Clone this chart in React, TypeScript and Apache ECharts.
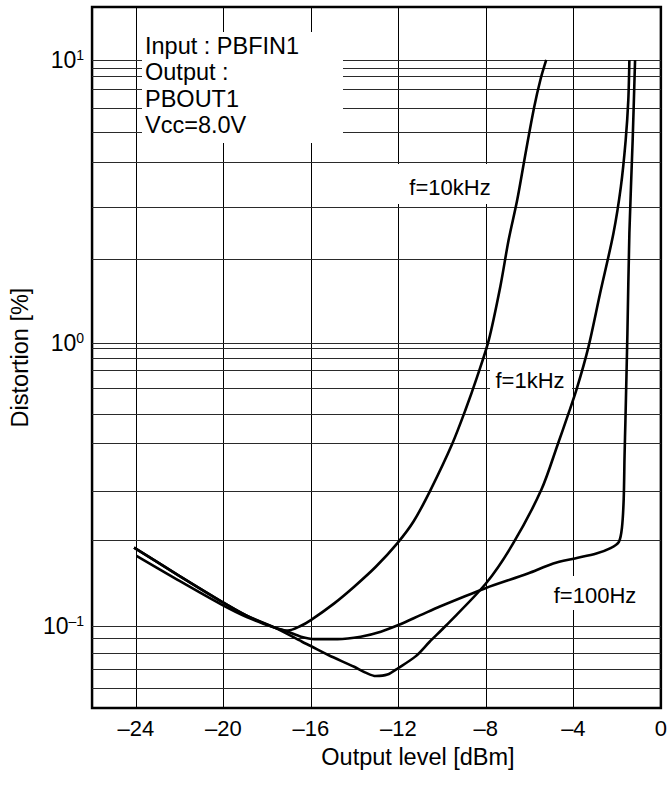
import React, { useEffect, useRef } from "react";
import * as echarts from "echarts";

const FONT = "'Liberation Sans', Arial, sans-serif";

// x tick labels shown, and vertical grid lines
const xLabelValues = [-24, -20, -16, -12, -8, -4, 0];
const xGridValues = [-24, -20, -16, -12, -8, -4];
// y decade labels (exponents) and the hand-drawn horizontal grid lines
const yLabelExponents = [-1, 0, 1];
const yGridValues = [
  0.0551, 0.0675, 0.0788, 0.0878, 0.096, 0.1,
  0.1955, 0.303, 0.441, 0.555, 0.69, 0.801, 0.878, 0.96, 1,
  1.97, 3.02, 4.36, 5.54, 6.77, 7.86, 8.76, 9.37, 10,
];

// Output level [dBm] vs Distortion [%]
const curve10kHz: [number, number][] = [
  [-24.08, 0.189], [-22.07, 0.151], [-20.1, 0.122], [-18.93, 0.1085], [-17.67, 0.0987],
  [-17.05, 0.0962], [-16.45, 0.1], [-16.0, 0.1047], [-14.93, 0.12], [-14.02, 0.1374],
  [-13.03, 0.1616], [-12.05, 0.1955], [-11.3, 0.234], [-10.52, 0.303], [-9.53, 0.441],
  [-8.93, 0.58], [-8.4, 0.758], [-7.87, 1.02], [-7.34, 1.58], [-6.96, 2.31],
  [-6.57, 3.19], [-6.16, 4.8], [-5.79, 6.82], [-5.5, 8.55], [-5.24, 10.0],
];
const curve1kHz: [number, number][] = [
  [-24.08, 0.189], [-22.07, 0.151], [-20.1, 0.122], [-18.93, 0.1085], [-17.67, 0.0987],
  [-16.4, 0.0878], [-16.0, 0.0848], [-15.2, 0.0788], [-14.02, 0.0716], [-13.5, 0.0683],
  [-13.03, 0.0664], [-12.5, 0.0672], [-12.0, 0.0709], [-11.2, 0.0781], [-10.57, 0.0878],
  [-9.83, 0.1], [-8.0, 0.141], [-6.76, 0.195], [-5.46, 0.303], [-4.7, 0.441],
  [-4.25, 0.555], [-3.84, 0.69], [-3.31, 0.968], [-2.78, 1.495], [-2.17, 2.436],
  [-1.83, 3.56], [-1.61, 5.2], [-1.49, 7.2], [-1.44, 10.0],
];
const curve100Hz: [number, number][] = [
  [-23.97, 0.1767], [-22.07, 0.145], [-20.1, 0.119], [-18.93, 0.1073], [-17.67, 0.0985],
  [-17.06, 0.0953], [-16.45, 0.0915], [-15.84, 0.0897], [-14.78, 0.0897], [-13.72, 0.0915],
  [-12.8, 0.0953], [-12.0, 0.1006], [-10.99, 0.109], [-10.1, 0.117], [-8.05, 0.1355],
  [-6.08, 0.153], [-4.92, 0.166], [-3.93, 0.173], [-2.95, 0.18], [-2.3, 0.188],
  [-1.92, 0.198], [-1.78, 0.222], [-1.7, 0.28], [-1.66, 0.4], [-1.62, 0.533],
  [-1.53, 1.08], [-1.44, 2.44], [-1.29, 5.2], [-1.18, 10.0],
];

const seriesList = [
  { name: "f=10kHz", data: curve10kHz },
  { name: "f=1kHz", data: curve1kHz },
  { name: "f=100Hz", data: curve100Hz },
];

const annotationLines = ["Input : PBFIN1", "Output :", "PBOUT1", "Vcc=8.0V"];

export default function App() {
  const ref = useRef<HTMLDivElement>(null);

  useEffect(() => {
    if (!ref.current) return;
    const chart = echarts.init(ref.current, null, { renderer: "svg" });

    const curveSeries = seriesList.map((s) => ({
      type: "line",
      name: s.name,
      data: s.data,
      showSymbol: false,
      symbol: "none",
      smooth: 0.3,
      silent: true,
      z: 3,
      lineStyle: { color: "#000", width: 2.6 },
    }));

    const gridSeries = {
      type: "line",
      name: "grid",
      data: [],
      silent: true,
      z: 1,
      markLine: {
        silent: true,
        symbol: "none",
        z: 1,
        animation: false,
        label: { show: false },
        emphasis: { disabled: true },
        data: [
          ...xGridValues.map((v) => ({ xAxis: v, lineStyle: { color: "#000", width: 1, type: "solid" } })),
          ...yGridValues.map((v) => ({ yAxis: v, lineStyle: { color: "#2a2a2a", width: 1, type: "solid" } })),
        ],
      },
    };

    const boxes = [
      { x: 142, y: 32, width: 201, height: 111 },
      { x: 392, y: 164, width: 108, height: 40 },
      { x: 490, y: 364, width: 82, height: 32 },
      { x: 545, y: 576, width: 98, height: 34 },
    ];

    const curveLabels = [
      { text: "f=10kHz", x: 450, y: 187 },
      { text: "f=1kHz", x: 530, y: 380 },
      { text: "f=100Hz", x: 595, y: 595 },
    ];

    const option: any = {
      animation: false,
      grid: {
        left: 90,
        right: 9,
        top: 7,
        bottom: 77,
        show: true,
        borderColor: "#000",
        borderWidth: 2.5,
        backgroundColor: "transparent",
        containLabel: false,
      },
      xAxis: {
        type: "value",
        min: -26,
        max: 0,
        interval: 2,
        axisLine: { show: false },
        axisTick: { show: false },
        splitLine: { show: false },
        axisLabel: {
          margin: 9,
          fontSize: 22,
          fontFamily: FONT,
          color: "#000",
          formatter: (v: number) =>
            xLabelValues.includes(v) ? (v < 0 ? "\u2013" + Math.abs(v) : String(v)) : "",
        },
        name: "Output level [dBm]",
        nameLocation: "middle",
        nameGap: 37,
        nameTextStyle: {
          fontSize: 23.5,
          fontFamily: FONT,
          color: "#000",
          lineHeight: 24,
          padding: [0, 0, 0, 83],
        },
      },
      yAxis: {
        type: "log",
        logBase: 10,
        min: 0.0512,
        max: 15.39,
        axisLine: { show: false },
        axisTick: { show: false },
        splitLine: { show: false },
        minorSplitLine: { show: false },
        axisLabel: {
          margin: 8,
          formatter: (v: number) => {
            const e = Math.log10(v);
            const r = Math.round(e);
            if (Math.abs(e - r) > 1e-6 || !yLabelExponents.includes(r)) return "";
            const sup = r < 0 ? "\u2013" + Math.abs(r) : String(r);
            return `{b|10}{s|${sup}}`;
          },
          rich: {
            b: { fontSize: 23, fontFamily: FONT, color: "#000", lineHeight: 24 },
            s: { fontSize: 14, fontFamily: FONT, color: "#000", lineHeight: 14, verticalAlign: "top" },
          },
        },
        name: "Distortion [%]",
        nameLocation: "middle",
        nameGap: 47,
        nameRotate: 90,
        nameTextStyle: { fontSize: 23.5, fontFamily: FONT, color: "#000", lineHeight: 24 },
      },
      graphic: [
        ...boxes.map((b) => ({
          type: "rect",
          silent: true,
          z: 2,
          shape: b,
          style: { fill: "#fff" },
        })),
        {
          type: "text",
          silent: true,
          z: 4,
          x: 145,
          y: 33,
          style: {
            text: annotationLines.join("\n"),
            fontSize: 23.5,
            fontFamily: FONT,
            fill: "#000",
            lineHeight: 26.3,
            align: "left",
            textAlign: "left",
            verticalAlign: "top",
            textVerticalAlign: "top",
          },
        },
        ...curveLabels.map((l) => ({
          type: "text",
          silent: true,
          z: 4,
          x: l.x,
          y: l.y,
          style: {
            text: l.text,
            fontSize: 22,
            fontFamily: FONT,
            fill: "#000",
            align: "center",
            textAlign: "center",
            verticalAlign: "middle",
            textVerticalAlign: "middle",
          },
        })),
      ],
      series: [gridSeries, ...curveSeries],
    };

    chart.setOption(option);
    return () => chart.dispose();
  }, []);

  return (
    <div
      ref={ref}
      style={{ position: "absolute", left: 0, top: 0, width: 670, height: 785, background: "#fff" }}
    />
  );
}
